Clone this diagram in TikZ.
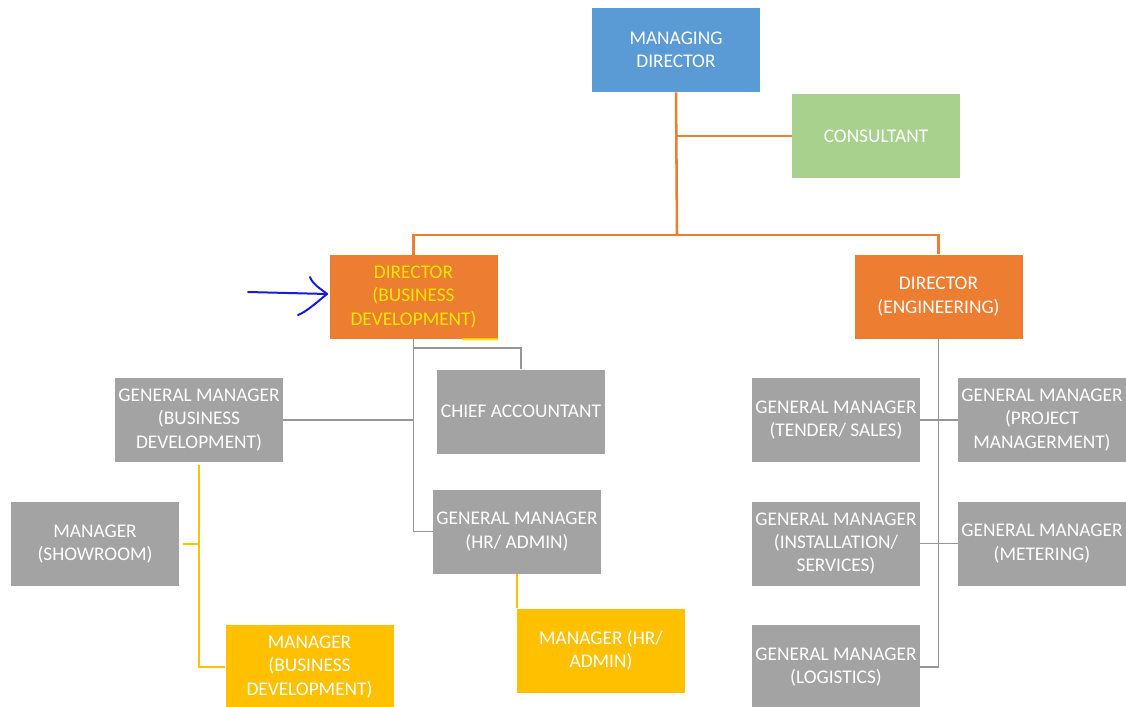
\documentclass[tikz,border=0pt]{standalone}
\usepackage{fontspec}
\setmainfont{Carlito}
\usepackage{tikz}
\definecolor{mdblue}{RGB}{91,155,213}
\definecolor{consgreen}{RGB}{169,209,142}
\definecolor{dirorange}{RGB}{237,125,49}
\definecolor{gmgray}{RGB}{163,163,163}
\definecolor{linegray}{RGB}{150,150,150}
\definecolor{mgrgold}{RGB}{255,192,0}
\definecolor{hiyellow}{RGB}{255,232,0}
\definecolor{penblue}{RGB}{25,25,225}

\begin{document}
\begin{tikzpicture}[x=0.75pt,y=0.75pt,yscale=-1,
  box/.style={rectangle, inner sep=0pt, minimum width=126pt, minimum height=63pt,
    align=center, text=white, font=\fontsize{14.5pt}{17.5pt}\selectfont},
  mdbox/.style={box, fill=mdblue},
  consbox/.style={box, fill=consgreen},
  dirbox/.style={box, fill=dirorange},
  gmbox/.style={box, fill=gmgray},
  mgrbox/.style={box, fill=mgrgold},
  orgline/.style={draw=dirorange, line width=1.9pt},
  grayline/.style={draw=linegray, line width=1.4pt},
  goldline/.style={draw=mgrgold, line width=1.3pt}]
\useasboundingbox (0,0) rectangle (1126,706);

% Top level
\node [mdbox] (md) at (676,50) {MANAGING\\DIRECTOR};
\node [consbox] (cons) at (876,136) {CONSULTANT};

% Directors
\node [dirbox, text=hiyellow] (dbd) at (413.5,297) {DIRECTOR\\(BUSINESS\\DEVELOPMENT)};
\node [dirbox] (deng) at (938.5,296.5) {DIRECTOR\\(ENGINEERING)};

% Business development side
\node [gmbox] (gmbd) at (199,420) {GENERAL MANAGER\\(BUSINESS\\DEVELOPMENT)};
\node [gmbox] (ca) at (521,411.5) {CHIEF ACCOUNTANT};
\node [gmbox] (gmhr) at (517,531.5) {GENERAL MANAGER\\(HR/ ADMIN)};
\node [gmbox] (show) at (95,544) {MANAGER\\(SHOWROOM)};
\node [mgrbox] (mgrbd) at (309.5,667) {MANAGER\\(BUSINESS\\DEVELOPMENT)};
\node [mgrbox] (mgrhr) at (601,650.5) {MANAGER (HR/\\ADMIN)};

% Engineering side
\node [gmbox] (gmts) at (836,420) {GENERAL MANAGER\\(TENDER/ SALES)};
\node [gmbox] (gmpm) at (1042,420) {GENERAL MANAGER\\(PROJECT\\MANAGERMENT)};
\node [gmbox] (gmis) at (836,543.5) {GENERAL MANAGER\\(INSTALLATION/\\SERVICES)};
\node [gmbox] (gmmt) at (1042,543.5) {GENERAL MANAGER\\(METERING)};
\node [gmbox] (gmlg) at (836,667) {GENERAL MANAGER\\(LOGISTICS)};

%Straight Lines (orange)
\coordinate (jtop) at (677,235);
\draw [orgline] (md.south) -- (jtop);
\draw [orgline] (cons.west) -- (cons.west -| jtop);
\draw [orgline] (dbd.north) -- (dbd.north |- jtop) -- (deng.north |- jtop) -- (deng.north);

%Straight Lines (gray)
\draw [grayline] (dbd.south) -- (dbd.south |- gmhr.west) -- (gmhr.west);
\draw [grayline] (dbd.south) ++(0,9) -| (ca.north);
\draw [grayline] (gmbd.east) -- (gmbd.east -| dbd.south);
\draw [grayline] (deng.south) -- (deng.south |- gmlg.east) -- (gmlg.east);
\draw [grayline] (gmts.east) -- (gmpm.west);
\draw [grayline] (gmis.east) -- (gmmt.west);

%Straight Lines (gold)
\draw [goldline] (gmbd.south) ++(0,3) -- (gmbd.south |- mgrbd.west) -- (mgrbd.west);
\draw [goldline] (show.east) ++(4,0) -- (show.east -| gmbd.south);
\draw [goldline] (gmhr.south) -- (gmhr.south |- mgrhr.north);

% Hand marks
\draw [hiyellow, line width=1.5pt] (462,339.5) -- (dbd.south east);
\coordinate (pentail) at (248,292);
\coordinate (pentip) at (327,294);
\draw [penblue, line width=1.5pt, line cap=round] (pentail) -- (pentip);
\draw [penblue, line width=1.5pt, line cap=round, line join=round]
  (310,277) .. controls (313,285) and (320,288) .. (pentip)
  .. controls (316,303) and (306,312) .. (298,315);
\end{tikzpicture}
\end{document}
